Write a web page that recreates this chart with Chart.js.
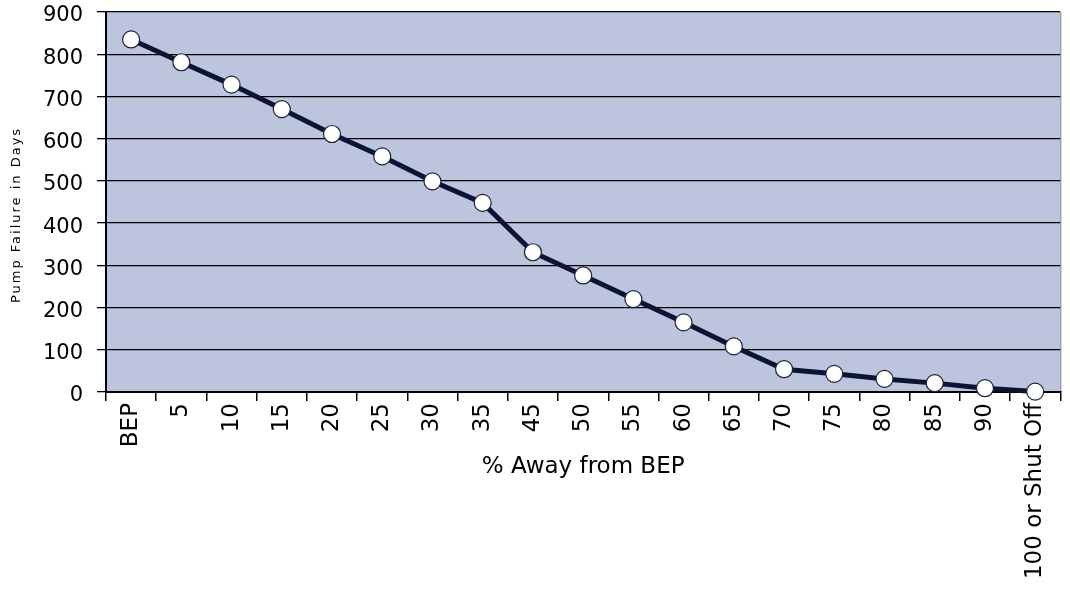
<!DOCTYPE html>
<html>
<head>
<meta charset="utf-8">
<script src="https://cdn.jsdelivr.net/npm/chart.js@4/dist/chart.umd.min.js"></script>
<style>
    html, body { margin: 0; padding: 0; background: #ffffff; }
    #wrap { width: 1070px; height: 592px; }
</style>
</head>
<body>
<div id="wrap"><canvas id="pump-chart"></canvas></div>
<script>
const categories = ['BEP', '5', '10', '15', '20', '25', '30', '35', '45', '50',
    '55', '60', '65', '70', '75', '80', '85', '90', '100 or Shut Off'];
const failureDays = [835, 781, 728, 670, 611, 558, 499, 448, 331, 276,
    220, 165, 108, 54, 43, 31, 21, 9, 1];
const yTicks = [0, 100, 200, 300, 400, 500, 600, 700, 800, 900];

const xTitle = '% Away from BEP';
const yTitle = 'Pump Failure in Days';

// plot background, frame and the two axis titles
const plotDecor = {
    id: 'plotDecor',
    beforeDraw(chart) {
        const { ctx, chartArea: a } = chart;
        ctx.save();
        ctx.fillStyle = '#bcc4de';
        ctx.fillRect(a.left, a.top, a.right - a.left, a.bottom - a.top);
        ctx.strokeStyle = '#7f7f7f';
        ctx.lineWidth = 1;
        ctx.beginPath();
        ctx.moveTo(a.right + 0.5, a.top);
        ctx.lineTo(a.right + 0.5, a.bottom);
        ctx.stroke();
        ctx.restore();
    },
    afterDraw(chart) {
        const { ctx, chartArea: a } = chart;
        ctx.save();
        ctx.fillStyle = '#000';
        ctx.font = '23px "DejaVu Sans"';
        ctx.textAlign = 'center';
        ctx.textBaseline = 'middle';
        ctx.fillText(xTitle, (a.left + a.right) / 2, 467);

        ctx.translate(17, 215);
        ctx.rotate(-Math.PI / 2);
        ctx.font = '13px "DejaVu Sans"';
        ctx.letterSpacing = '2px';
        ctx.fillText(yTitle, 0, 0);
        ctx.restore();
    }
};

new Chart(document.getElementById('pump-chart'), {
    type: 'line',
    data: {
        labels: categories,
        datasets: [{
            data: failureDays,
            borderColor: '#0b1433',
            borderWidth: 5,
            pointRadius: 8.5,
            pointHoverRadius: 8.5,
            pointBackgroundColor: '#ffffff',
            pointBorderColor: '#1c2238',
            pointBorderWidth: 1.2,
            tension: 0,
            clip: false
        }]
    },
    options: {
        responsive: true,
        maintainAspectRatio: false,
        animation: false,
        layout: { padding: { top: 12, right: 9, left: 0, bottom: 0 } },
        plugins: {
            legend: { display: false },
            tooltip: { enabled: false }
        },
        scales: {
            x: {
                offset: true,
                afterFit: (scale) => { scale.height = 200; },
                grid: {
                    offset: true,
                    drawOnChartArea: false,
                    color: '#000',
                    lineWidth: 1.5,
                    tickLength: 9
                },
                border: { color: '#000', width: 2 },
                ticks: {
                    color: '#000',
                    font: { family: 'DejaVu Sans', size: 23 },
                    maxRotation: 90,
                    minRotation: 90,
                    autoSkip: false,
                    padding: 2
                }
            },
            y: {
                min: 0,
                max: 900,
                afterFit: (scale) => {
                    scale.width = 106;
                    scale.paddingTop = 0;
                    scale.paddingBottom = 0;
                },
                afterBuildTicks: (scale) => { scale.ticks = yTicks.map(v => ({ value: v })); },
                grid: {
                    color: '#000',
                    lineWidth: 1.3,
                    tickLength: 9
                },
                border: { color: '#000', width: 2 },
                ticks: {
                    color: '#000',
                    font: { family: 'DejaVu Sans', size: 21 },
                    padding: 14,
                    labelOffset: 4
                }
            }
        }
    },
    plugins: [plotDecor]
});
</script>
</body>
</html>
